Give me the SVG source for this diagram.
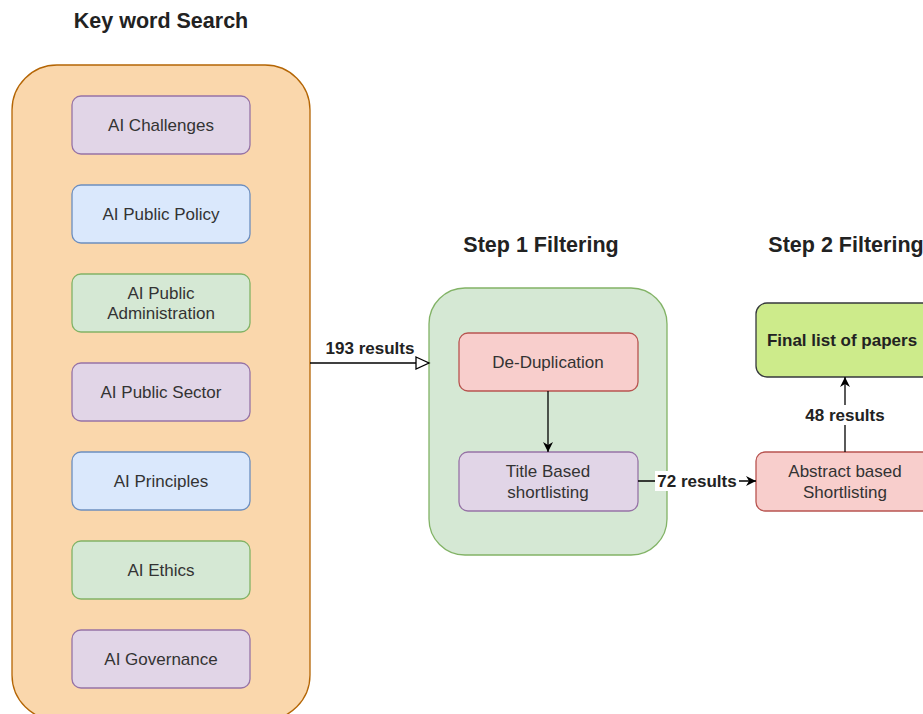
<svg xmlns="http://www.w3.org/2000/svg" width="923" height="714" viewBox="0 0 923 714">
<defs>
<style>
.t{font-family:"Liberation Sans",Arial,sans-serif;font-size:17px;fill:#333;text-anchor:middle}
.b{font-family:"Liberation Sans",Arial,sans-serif;font-weight:bold;fill:#222;text-anchor:middle}
.h{font-size:21.5px}
.l{font-size:17px}
.pu{fill:#e1d5e7;stroke:#9673a6;stroke-width:1.3}
.bl{fill:#dae8fc;stroke:#6c8ebf;stroke-width:1.3}
.gr{fill:#d5e8d4;stroke:#82b366;stroke-width:1.3}
.rd{fill:#f8cecc;stroke:#b85450;stroke-width:1.3}
.c{fill:none;stroke:#000;stroke-width:1.3}
</style>
<marker id="open" markerWidth="16" markerHeight="14" refX="14" refY="7" orient="auto" markerUnits="userSpaceOnUse"><path d="M1,1 L14,7 L1,13 Z" fill="#fff" stroke="#000" stroke-width="1.3"/></marker>
<marker id="cls" markerWidth="12" markerHeight="12" refX="10" refY="6" orient="auto" markerUnits="userSpaceOnUse"><path d="M0,1 L10,6 L0,11 L3,6 Z" fill="#000"/></marker>
</defs>
<rect width="923" height="714" fill="#fff"/>
<g id="titles">
<text class="b h" x="161" y="28">Key word Search</text>
<text class="b h" x="541" y="252">Step 1 Filtering</text>
<text class="b h" x="846" y="252">Step 2 Filtering</text>
</g>
<g id="keyword-search"><rect x="12" y="65" width="298" height="655" rx="45" fill="#fad7ac" stroke="#b46504" stroke-width="1.3"/></g>
<g id="kw1"><rect class="pu" x="72" y="96" width="178" height="58" rx="9"/><text class="t" x="161" y="131">AI Challenges</text></g>
<g id="kw2"><rect class="bl" x="72" y="185" width="178" height="58" rx="9"/><text class="t" x="161" y="220">AI Public Policy</text></g>
<g id="kw3"><rect class="gr" x="72" y="274" width="178" height="58" rx="9"/><text class="t" x="161" y="299">AI Public</text><text class="t" x="161" y="319">Administration</text></g>
<g id="kw4"><rect class="pu" x="72" y="363" width="178" height="58" rx="9"/><text class="t" x="161" y="398">AI Public Sector</text></g>
<g id="kw5"><rect class="bl" x="72" y="452" width="178" height="58" rx="9"/><text class="t" x="161" y="487">AI Principles</text></g>
<g id="kw6"><rect class="gr" x="72" y="541" width="178" height="58" rx="9"/><text class="t" x="161" y="576">AI Ethics</text></g>
<g id="kw7"><rect class="pu" x="72" y="630" width="178" height="58" rx="9"/><text class="t" x="161" y="665">AI Governance</text></g>
<g id="step1"><rect class="gr" x="429" y="288" width="238" height="267" rx="36"/></g>
<g id="dedup"><rect class="rd" x="459" y="333" width="179" height="58" rx="9"/><text class="t" x="548" y="368">De-Duplication</text></g>
<g id="title-based"><rect class="pu" x="459" y="452" width="179" height="59" rx="9"/><text class="t" x="548" y="477">Title Based</text><text class="t" x="548" y="498">shortlisting</text></g>
<g id="abstract"><rect class="rd" x="756" y="452" width="178" height="59" rx="9"/><text class="t" x="845" y="477">Abstract based</text><text class="t" x="845" y="498">Shortlisting</text></g>
<g id="final"><rect x="756" y="303" width="178" height="74" rx="11" fill="#cdeb8b" stroke="#36393d" stroke-width="1.3"/><text class="b l" x="842" y="346">Final list of papers</text></g>
<g id="connectors">
<path class="c" d="M310,363 H429" marker-end="url(#open)"/>
<text class="b l" x="370" y="354">193 results</text>
<path class="c" d="M548,391 V452" marker-end="url(#cls)"/>
<path class="c" d="M638,481 H756" marker-end="url(#cls)"/>
<rect x="655" y="471" width="84" height="20" fill="#fff"/>
<text class="b l" x="697" y="487">72 results</text>
<path class="c" d="M845,452 V377" marker-end="url(#cls)"/>
<rect x="802" y="405" width="86" height="20" fill="#fff"/>
<text class="b l" x="845" y="421">48 results</text>
</g>
</svg>
